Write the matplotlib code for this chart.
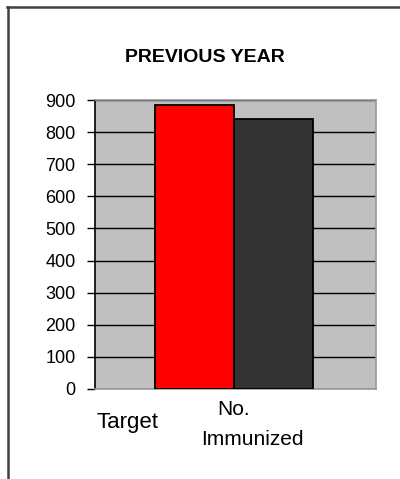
import numpy as np
import matplotlib.pyplot as plt
from matplotlib.lines import Line2D

plt.rcParams['font.family'] = ['Liberation Sans', 'DejaVu Sans']

series = ['Target', 'No. Immunized']
values = [885, 840]
colors = ['#ff0000', '#333333']
yticks = [0, 100, 200, 300, 400, 500, 600, 700, 800, 900]

fig = plt.figure(figsize=(4.0, 4.79), dpi=100)
ax = fig.add_axes([0.2375, 0.1879, 0.7025, 0.6033])
ax.set_facecolor('#c0c0c0')

x = np.arange(len(values))
ax.bar(x, values, width=1.0, color=colors, edgecolor='black', linewidth=1.3, zorder=3)

ax.set_xlim(-1.26, 2.3)
ax.set_ylim(0, 900)
ax.set_yticks(yticks)
ax.set_yticklabels([str(t) for t in yticks], fontsize=13)
ax.yaxis.grid(True, color='black', linewidth=1.0, zorder=1)
ax.set_axisbelow(True)
ax.set_xticks([])
ax.tick_params(axis='y', direction='out', length=6, width=1, pad=8)

for s in ['top', 'right', 'bottom']:
    ax.spines[s].set_color('#9a9a9a')
    ax.spines[s].set_linewidth(1.2)
ax.spines['left'].set_color('black')
ax.spines['left'].set_linewidth(1.2)

# title and category labels
fig.text(0.5125, 0.881, 'PREVIOUS YEAR', ha='center', va='center',
         fontsize=14, fontweight='bold')
fig.text(0.318, 0.117, series[0], ha='center', va='center', fontsize=16)
fig.text(0.583, 0.145, 'No.', ha='center', va='center', fontsize=15)
fig.text(0.632, 0.083, 'Immunized', ha='center', va='center', fontsize=15)

# outer frame (top and left edges)
fig.add_artist(Line2D([0.018, 1.0], [0.985, 0.985], transform=fig.transFigure,
                      color='#404040', linewidth=1.8))
fig.add_artist(Line2D([0.02, 0.02], [0.0, 0.985], transform=fig.transFigure,
                      color='#404040', linewidth=1.8))

fig.savefig('out.png', dpi=100)
